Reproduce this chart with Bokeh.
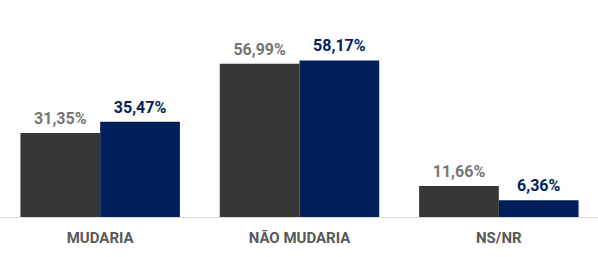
from bokeh.plotting import figure
from bokeh.models import ColumnDataSource, FactorRange, Range1d
from bokeh.transform import dodge
from bokeh.core.properties import value
from bokeh.embed import file_html
from bokeh.resources import INLINE

categories = ["MUDARIA", "NÃO MUDARIA", "NS/NR"]
serie_cinza = [31.35, 56.99, 11.66]
serie_azul = [35.47, 58.17, 6.36]

def fmt(v):
    return f"{v:.2f}%".replace(".", ",")

source = ColumnDataSource(dict(
    cat=categories,
    a=serie_cinza,
    b=serie_azul,
    la=[fmt(v) for v in serie_cinza],
    lb=[fmt(v) for v in serie_azul],
))

FONT = "Roboto"
GRAY = "#363636"
NAVY = "#001F5B"

p = figure(x_range=FactorRange(*categories), y_range=Range1d(0, 80.4),
           width=598, height=257, output_backend="svg", toolbar_location=None,
           min_border_left=0, min_border_right=0, min_border_top=0, min_border_bottom=40)

p.vbar(x=dodge("cat", -0.2, range=p.x_range), top="a", width=0.4, source=source,
       fill_color=GRAY, line_color=None)
p.vbar(x=dodge("cat", 0.2, range=p.x_range), top="b", width=0.4, source=source,
       fill_color=NAVY, line_color=None)

p.text(x=dodge("cat", -0.2, range=p.x_range), y="a", text="la", source=source,
       text_align="center", text_baseline="bottom", y_offset=-5,
       text_font=value(FONT), text_font_style="bold", text_font_size="16px",
       text_color="#767676")
p.text(x=dodge("cat", 0.2, range=p.x_range), y="b", text="lb", source=source,
       text_align="center", text_baseline="bottom", y_offset=-5,
       text_font=value(FONT), text_font_style="bold", text_font_size="16px",
       text_color=NAVY)

p.yaxis.visible = False
p.xgrid.grid_line_color = None
p.ygrid.grid_line_color = None
p.outline_line_color = None
p.xaxis.axis_line_color = "#D9D9D9"
p.xaxis.major_tick_line_color = None
p.xaxis.minor_tick_line_color = None
p.xaxis.major_tick_out = 0
p.xaxis.major_label_standoff = 11
p.xaxis.major_label_text_font = FONT
p.xaxis.major_label_text_font_style = "bold"
p.xaxis.major_label_text_font_size = "15px"
p.xaxis.major_label_text_color = "#595959"

open("out.html", "w").write(file_html(p, INLINE))
